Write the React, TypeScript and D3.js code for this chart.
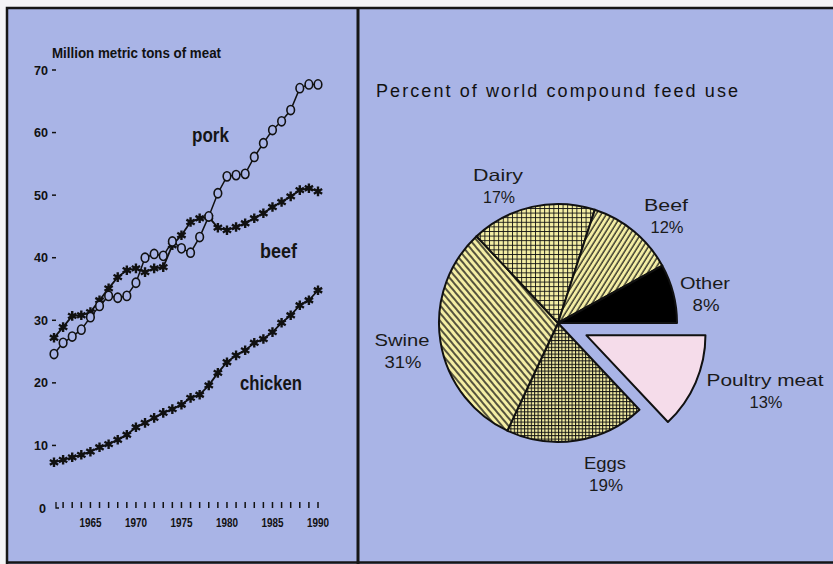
import React from "react";
import { scaleLinear, line, pie, arc, PieArcDatum } from "d3";

const width = 833;
const height = 564;
const bg = "#a9b4e6";
const yellow = "#f4eea4";

// left panel: world meat production, million metric tons
const years = [
  1961, 1962, 1963, 1964, 1965, 1966, 1967, 1968, 1969, 1970,
  1971, 1972, 1973, 1974, 1975, 1976, 1977, 1978, 1979, 1980,
  1981, 1982, 1983, 1984, 1985, 1986, 1987, 1988, 1989, 1990,
];
const pork = [
  24.6, 26.4, 27.4, 28.5, 30.5, 32.3, 33.9, 33.6, 33.9, 36.0,
  40.0, 40.6, 40.3, 42.6, 41.5, 40.8, 43.3, 46.6, 50.3, 53.0,
  53.2, 53.4, 56.1, 58.3, 60.4, 61.8, 63.6, 67.1, 67.7, 67.7,
];
const beef = [
  27.2, 28.9, 30.7, 30.8, 31.3, 33.2, 35.1, 36.9, 38.0, 38.3,
  37.7, 38.3, 38.5, 42.0, 43.6, 45.7, 46.3, 46.5, 44.8, 44.4,
  44.9, 45.5, 46.3, 47.1, 48.1, 48.9, 49.8, 50.8, 51.1, 50.6,
];
const chicken = [
  7.3, 7.7, 8.1, 8.5, 9.0, 9.7, 10.2, 10.9, 11.7, 12.9,
  13.6, 14.4, 15.2, 15.8, 16.5, 17.6, 18.1, 19.6, 21.6, 23.3,
  24.4, 25.2, 26.4, 27.0, 28.1, 29.6, 30.8, 32.4, 33.2, 34.8,
];
const yTicks = [0, 10, 20, 30, 40, 50, 60, 70];
const tickYears = [
  1962, 1963, 1964, 1965, 1966, 1967, 1968, 1969, 1970, 1971,
  1972, 1973, 1974, 1975, 1976, 1977, 1978, 1979, 1980, 1981,
  1982, 1983, 1984, 1985, 1986, 1987, 1988, 1989, 1990,
];
const labelYears = [1965, 1970, 1975, 1980, 1985, 1990];

// right panel: percent of world compound feed use (clockwise from 3 o'clock)
const feedNames = ["Poultry meat", "Eggs", "Swine", "Dairy", "Beef", "Other"];
const feedShares = [13, 19, 31, 17, 12, 8];

const x = scaleLinear().domain([1961, 1990]).range([54, 318]);
const y = scaleLinear().domain([0, 70]).range([508, 70]);
const lineGen = line<number>()
  .x((_, i) => x(years[i]))
  .y((d) => y(d));

const cx = 558;
const cy = 323;
const radius = 119;
const pieGen = pie<number>()
  .sort(null)
  .startAngle(Math.PI / 2)
  .endAngle(Math.PI / 2 + 2 * Math.PI);
const arcGen = arc<PieArcDatum<number>>().innerRadius(0).outerRadius(radius);
const slices = pieGen(feedShares);

const fills: Record<string, string> = {
  "Poultry meat": "#f5dcea",
  Eggs: "url(#eggs)",
  Swine: "url(#swine)",
  Dairy: "url(#dairy)",
  Beef: "url(#beef)",
  Other: "#000",
};

// label anchor points (text centre, first baseline) and widths
const feedLabels: Record<string, { lx: number; ly: number; w1: number; w2: number }> = {
  Dairy: { lx: 498, ly: 181, w1: 50, w2: 32 },
  Beef: { lx: 666, ly: 211, w1: 44, w2: 33 },
  Other: { lx: 705, ly: 289, w1: 50, w2: 27 },
  Swine: { lx: 402, ly: 346, w1: 55, w2: 37 },
  "Poultry meat": { lx: 765, ly: 386, w1: 117, w2: 33 },
  Eggs: { lx: 605, ly: 469, w1: 42, w2: 34 },
};

function Star({ px, py }: { px: number; py: number }) {
  const r = 4.8;
  const d = [0, 60, 120]
    .map((a) => {
      const t = (a * Math.PI) / 180 + Math.PI / 2;
      const dx = Math.cos(t) * r;
      const dy = Math.sin(t) * r;
      return `M${px - dx},${py - dy}L${px + dx},${py + dy}`;
    })
    .join("");
  return (
    <g>
      <path d={d} stroke="#111" strokeWidth={2.4} />
      <circle cx={px} cy={py} r={2} fill="#111" />
    </g>
  );
}

export default function App() {
  const font = "'Liberation Sans', Arial, sans-serif";
  return (
    <svg
      width={width}
      height={height}
      viewBox={`0 0 ${width} ${height}`}
      style={{ position: "absolute", left: 0, top: 0, background: "#f4f4f6" }}
    >
      <defs>
        <pattern id="swine" width={5} height={5} patternUnits="userSpaceOnUse" patternTransform="rotate(-40)">
          <rect width={5} height={5} fill={yellow} />
          <line x1={1} y1={0} x2={1} y2={5} stroke="#111" strokeWidth={1.4} />
        </pattern>
        <pattern id="beef" width={4.4} height={4.4} patternUnits="userSpaceOnUse" patternTransform="rotate(32)">
          <rect width={4.4} height={4.4} fill={yellow} />
          <line x1={1} y1={0} x2={1} y2={4.4} stroke="#111" strokeWidth={1.2} />
        </pattern>
        <pattern id="dairy" width={4.6} height={4.6} patternUnits="userSpaceOnUse">
          <rect width={4.6} height={4.6} fill={yellow} />
          <line x1={0.5} y1={0} x2={0.5} y2={4.6} stroke="#111" strokeWidth={0.9} />
          <line x1={0} y1={0.5} x2={4.6} y2={0.5} stroke="#111" strokeWidth={0.9} />
        </pattern>
        <pattern id="eggs" width={3.4} height={3.4} patternUnits="userSpaceOnUse">
          <rect width={3.4} height={3.4} fill={yellow} />
          <line x1={0.5} y1={0} x2={0.5} y2={3.4} stroke="#111" strokeWidth={1} />
          <line x1={0} y1={0.5} x2={3.4} y2={0.5} stroke="#111" strokeWidth={1} />
        </pattern>
      </defs>

      <rect x={7} y={8} width={width - 7} height={height - 8} fill={bg} />

      {/* ---- left panel ---- */}
      <text x={52} y={58} fontFamily={font} fontWeight="bold" fontSize={14} textLength={169} lengthAdjust="spacingAndGlyphs" fill="#111">
        Million metric tons of meat
      </text>
      {yTicks.map((t) => (
        <g key={t}>
          <text x={t === 0 ? 46 : 48} y={y(t) + 4.5} textAnchor="end" fontFamily={font} fontWeight="bold" fontSize={13} textLength={t === 0 ? 7 : 14} lengthAdjust="spacingAndGlyphs" fill="#111">
            {t}
          </text>
          {t > 0 && <line x1={52} x2={56} y1={y(t)} y2={y(t)} stroke="#111" strokeWidth={1.5} />}
        </g>
      ))}
      <path d={`M56,${y(0) - 6}V${y(0)}H59`} fill="none" stroke="#111" strokeWidth={1.3} />
      {tickYears.map((yr) => (
        <line key={yr} x1={x(yr)} x2={x(yr)} y1={y(0) - 6} y2={y(0)} stroke="#111" strokeWidth={1.5} />
      ))}
      {labelYears.map((yr) => (
        <text key={yr} x={x(yr)} y={527} textAnchor="middle" fontFamily={font} fontWeight="bold" fontSize={13} textLength={22} lengthAdjust="spacingAndGlyphs" fill="#111">
          {yr}
        </text>
      ))}

      <path d={lineGen(pork) ?? ""} fill="none" stroke="#111" strokeWidth={1.5} />
      <path d={lineGen(beef) ?? ""} fill="none" stroke="#111" strokeWidth={1.8} />
      <path d={lineGen(chicken) ?? ""} fill="none" stroke="#111" strokeWidth={1.8} />
      {beef.map((v, i) => (
        <Star key={"b" + i} px={x(years[i])} py={y(v)} />
      ))}
      {chicken.map((v, i) => (
        <Star key={"c" + i} px={x(years[i])} py={y(v)} />
      ))}
      {pork.map((v, i) => (
        <ellipse key={"p" + i} cx={x(years[i])} cy={y(v)} rx={3.8} ry={4.6} fill={bg} stroke="#111" strokeWidth={1.6} />
      ))}

      <text x={192} y={142} fontFamily={font} fontWeight="bold" fontSize={21} textLength={37} lengthAdjust="spacingAndGlyphs" fill="#151515">
        pork
      </text>
      <text x={260} y={258} fontFamily={font} fontWeight="bold" fontSize={21} textLength={37} lengthAdjust="spacingAndGlyphs" fill="#151515">
        beef
      </text>
      <text x={240} y={390} fontFamily={font} fontWeight="bold" fontSize={21} textLength={62} lengthAdjust="spacingAndGlyphs" fill="#151515">
        chicken
      </text>

      {/* ---- right panel ---- */}
      <text x={376} y={97} fontFamily={font} fontSize={18} textLength={362} lengthAdjust="spacing" fill="#111">
        Percent of world compound feed use
      </text>
      <g transform={`translate(${cx},${cy})`}>
        {slices.map((s, i) => {
          const name = feedNames[i];
          let tx = 0;
          let ty = 0;
          if (name === "Poultry meat") {
            const mid = (s.startAngle + s.endAngle) / 2;
            tx = Math.sin(mid) * 31;
            ty = -Math.cos(mid) * 31;
          }
          return (
            <path
              key={name}
              d={arcGen(s) ?? ""}
              transform={`translate(${tx},${ty})`}
              fill={fills[name]}
              stroke="#111"
              strokeWidth={2}
              strokeLinejoin="round"
            />
          );
        })}
      </g>
      {feedNames.map((name, i) => {
        const l = feedLabels[name];
        return (
          <g key={name} fontFamily={font} fontSize={16.5} fill="#1a1a1a" textAnchor="middle">
            <text x={l.lx} y={l.ly} textLength={l.w1} lengthAdjust="spacingAndGlyphs">
              {name}
            </text>
            <text x={l.lx + 1} y={l.ly + 22} textLength={l.w2} lengthAdjust="spacingAndGlyphs">
              {feedShares[i]}%
            </text>
          </g>
        );
      })}

      {/* frame */}
      <path d={`M7,${height}V8H${width}`} fill="none" stroke="#161616" strokeWidth={2.5} />
      <line x1={358} x2={358} y1={8} y2={height} stroke="#161616" strokeWidth={3} />
      <line x1={7} x2={width} y1={562.5} y2={562.5} stroke="#161616" strokeWidth={2.5} />
    </svg>
  );
}
